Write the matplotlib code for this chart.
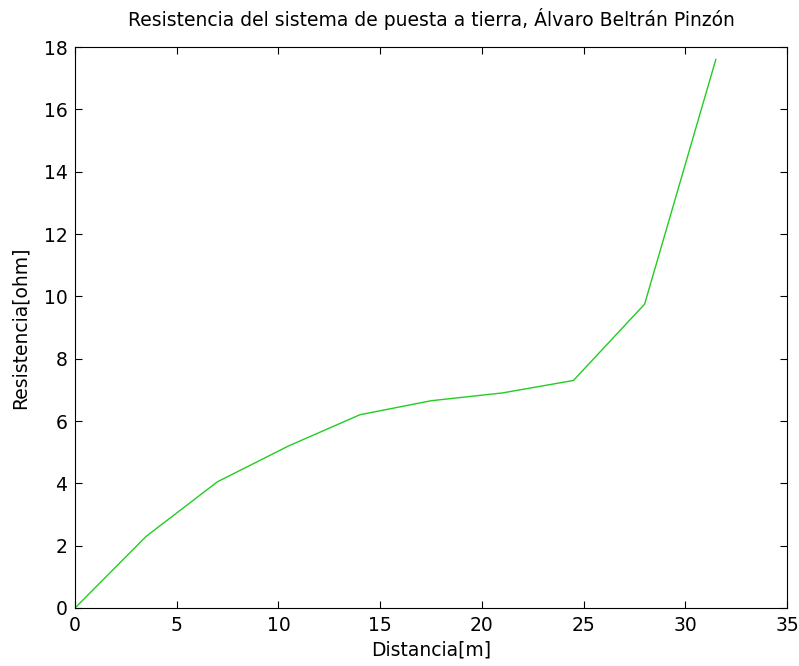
import matplotlib
matplotlib.use('Agg')
import matplotlib.pyplot as plt

# distancia [m] y resistencia [ohm]
distancia = [0, 3.5, 7, 10.5, 14, 17.5, 21, 24.5, 28, 31.5]
resistencia = [0, 2.3, 4.05, 5.2, 6.2, 6.65, 6.9, 7.3, 9.75, 17.6]

xticks = [0, 5, 10, 15, 20, 25, 30, 35]
yticks = [0, 2, 4, 6, 8, 10, 12, 14, 16, 18]

plt.rcParams['font.family'] = ['DejaVu Sans']
plt.rcParams['font.size'] = 13.5

fig = plt.figure(figsize=(7.99, 6.66), dpi=100)
ax = fig.add_axes([0.0939, 0.0871, 0.8911, 0.8423])

ax.plot(distancia, resistencia, color='#22cc22', linewidth=1.0)

ax.set_xlim(0, 35)
ax.set_ylim(0, 18)
ax.set_xticks(xticks)
ax.set_yticks(yticks)
ax.tick_params(direction='in', top=True, right=True, length=5, labelsize=13.5, pad=5.5)
for s in ax.spines.values():
    s.set_linewidth(0.8)

ax.set_xlabel("Distancia[m]", fontsize=13.5, labelpad=4)
ax.set_ylabel("Resistencia[ohm]", fontsize=13.5, labelpad=10)
ax.set_title("Resistencia del sistema de puesta a tierra, Álvaro Beltrán Pinzón", fontsize=13.5, pad=15)

fig.savefig('out.png', dpi=100)
